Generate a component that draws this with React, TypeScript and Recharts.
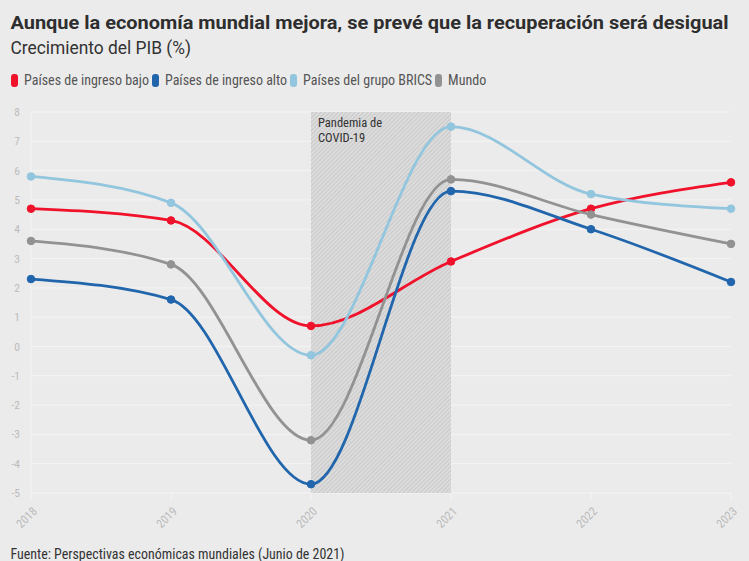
import React from 'react';
import { LineChart, Line, XAxis, YAxis, CartesianGrid, ReferenceArea } from 'recharts';

const years = [2018, 2019, 2020, 2021, 2022, 2023];
const lowIncome = [4.7, 4.3, 0.7, 2.9, 4.7, 5.6];
const highIncome = [2.3, 1.6, -4.7, 5.3, 4.0, 2.2];
const brics = [5.8, 4.9, -0.3, 7.5, 5.2, 4.7];
const world = [3.6, 2.8, -3.2, 5.7, 4.5, 3.5];
const yTicks = [-5, -4, -3, -2, -1, 0, 1, 2, 3, 4, 5, 6, 7, 8];

const seriesNames = ['Países de ingreso bajo', 'Países de ingreso alto', 'Países del grupo BRICS', 'Mundo'];
const seriesKeys = ['low', 'high', 'brics', 'world'];
const seriesColors = ['#f0112b', '#2166ac', '#92c5de', '#929292'];

const data = years.map((y, i) => ({
  year: y,
  low: lowIncome[i],
  high: highIncome[i],
  brics: brics[i],
  world: world[i],
}));

const FONT = '"Roboto Condensed", "Liberation Sans Narrow", Roboto, sans-serif';
const FONT_T = 'Roboto, "Noto Sans", sans-serif';

const XTick = (props: any) => {
  const { x, y, payload } = props;
  const ax = x + 7;
  const ay = y + 11;
  return (
    <text x={ax} y={ay} transform={`rotate(-45, ${ax}, ${ay})`} textAnchor="end" fill="#bbbbbb" fontSize={12} fontFamily={FONT}>
      {payload.value}
    </text>
  );
};

export default function App() {
  return (
    <div style={{ position: 'absolute', left: 0, top: 0, width: 749, height: 561, background: '#ebebeb', fontFamily: FONT, overflow: 'hidden' }}>
      <svg width={749} height={561} style={{ position: 'absolute', left: 0, top: 0 }}>
        <text x={10.5} y={28.5} fontFamily={FONT_T} fontWeight="bold" fontSize={18} fill="#2e2e2e" textLength={718} lengthAdjust="spacingAndGlyphs">
          Aunque la economía mundial mejora, se prevé que la recuperación será desigual
        </text>
        <text x={10.5} y={54} fontFamily={FONT_T} fontSize={17.5} fill="#333" textLength={180.5} lengthAdjust="spacingAndGlyphs">
          Crecimiento del PIB (%)
        </text>
        <text x={10.5} y={559} fontFamily={FONT} fontSize={14} fill="#333" textLength={334} lengthAdjust="spacingAndGlyphs">
          Fuente: Perspectivas económicas mundiales (Junio de 2021)
        </text>
      </svg>
      <div style={{ position: 'absolute', left: 11, top: 73, fontSize: 14, lineHeight: '14px', color: '#555', whiteSpace: 'nowrap' }}>
        {seriesNames.map((n, i) => (
          <span key={n} style={{ marginRight: 3 }}>
            <span style={{ display: 'inline-block', width: 7, height: 13, borderRadius: 3, background: seriesColors[i], marginRight: 6, verticalAlign: '-2px' }} />
            {n}
          </span>
        ))}
      </div>
      <div style={{ position: 'absolute', left: 0, top: 0 }}>
        <LineChart width={749} height={561} data={data} margin={{ top: 112, right: 18, bottom: 28, left: 11 }}>
          <defs>
            <pattern id="hatch" width="3" height="3" patternUnits="userSpaceOnUse" patternTransform="rotate(45)">
              <rect width="3" height="3" fill="#dcdcdc" />
              <line x1="0.5" y1="0" x2="0.5" y2="3" stroke="#c9c9c9" strokeWidth="1" />
            </pattern>
          </defs>
          <CartesianGrid stroke="#f4f4f4" strokeWidth={1} vertical={false} />
          <XAxis
            dataKey="year"
            type="number"
            domain={[2018, 2023]}
            ticks={years}
            axisLine={false}
            tickLine={{ stroke: '#f4f4f4' }}
            tickSize={6}
            height={40}
            tick={<XTick />}
            interval={0}
          />
          <YAxis
            type="number"
            domain={[-5, 8]}
            ticks={yTicks}
            axisLine={{ stroke: '#f4f4f4' }}
            tickLine={false}
            width={20}
            interval={0}
            tick={{ fill: '#bbbbbb', fontSize: 11.5, fontFamily: FONT, dx: -3 } as any}
          />
          <ReferenceArea
            x1={2020}
            x2={2021}
            y1={-5}
            y2={8}
            fill="url(#hatch)"
            fillOpacity={1}
            stroke="none"
            label={(p: any) => {
              const vb = p.viewBox;
              return (
                <text x={vb.x + 7} y={vb.y + 15} fill="#333" fontSize={12.5} fontFamily={FONT}>
                  <tspan x={vb.x + 7}>Pandemia de</tspan>
                  <tspan x={vb.x + 7} dy={14.5}>COVID-19</tspan>
                </text>
              );
            }}
          />
          {seriesKeys.map((k, i) => (
            <Line
              key={k}
              type="monotone"
              dataKey={k}
              name={seriesNames[i]}
              stroke={seriesColors[i]}
              strokeWidth={2.8}
              dot={{ r: 3.8, fill: seriesColors[i], stroke: seriesColors[i], strokeWidth: 1 }}
              isAnimationActive={false}
            />
          ))}
        </LineChart>
      </div>
    </div>
  );
}
